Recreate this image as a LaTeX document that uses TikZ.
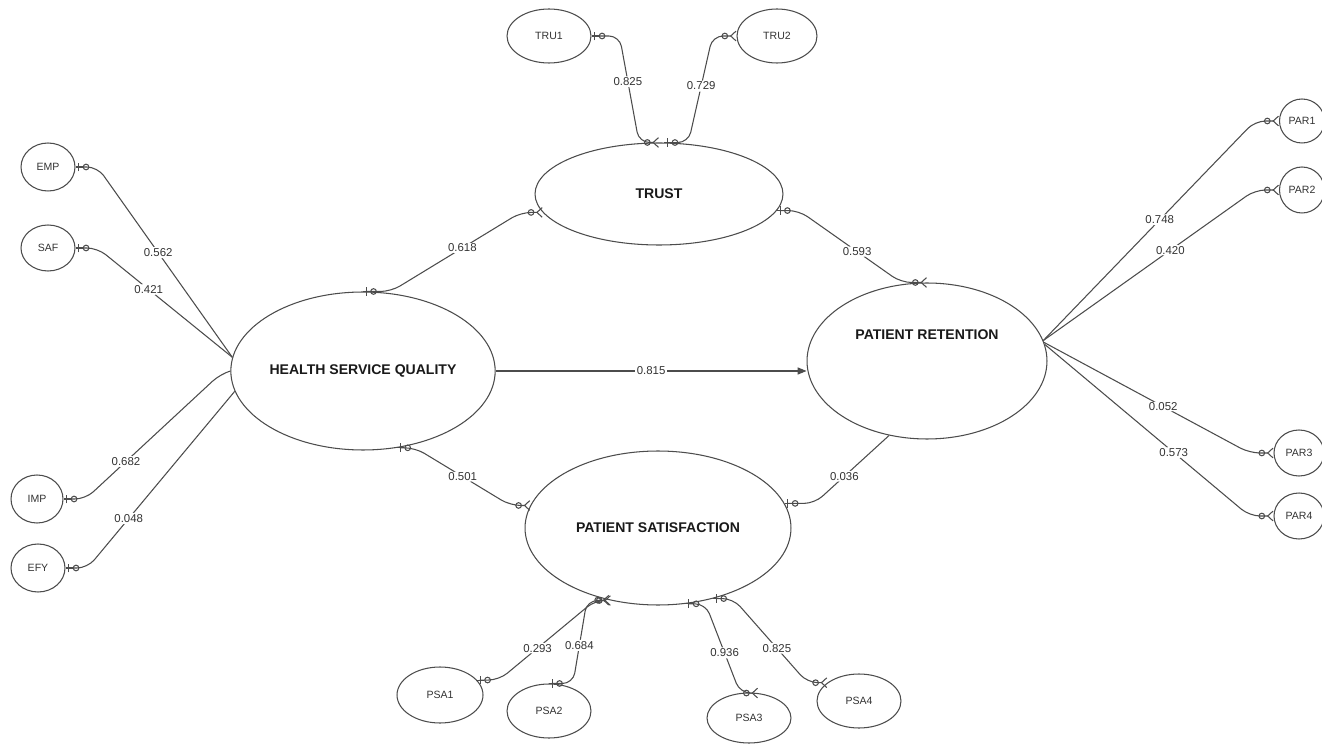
\documentclass[tikz,border=0pt]{standalone}
\usepackage{fontspec}
\setmainfont{Liberation Sans}
\usetikzlibrary{shapes.geometric,arrows.meta,calc}

\begin{document}
\begin{tikzpicture}[x=0.02cm,y=-0.02cm,
    line width=0.6pt,
    construct/.style={ellipse,draw=black!70,inner sep=0pt,text=black!90,
        font=\fontsize{8}{9}\selectfont\bfseries},
    indicator/.style={ellipse,draw=black!70,inner sep=0pt,text=black!80,
        font=\fontsize{6}{7}\selectfont},
    coef/.style={fill=white,inner sep=0.8pt,text=black!80,
        font=\fontsize{6.5}{7}\selectfont},
    link/.style={draw=black!70,rounded corners=6pt},
    onlyone/.style={link,arrows={{Rectangle[length=1.5pt,width=0.6pt,line width=0pt,sep=0pt]Bar[width=5pt,sep=0pt]Rectangle[length=2pt,width=0.6pt,line width=0pt,sep=0pt]Circle[open,length=3.8pt,width=3.8pt]}-}},
    onlymany/.style={link,arrows={-{Circle[open,length=3.8pt,width=3.8pt,sep=1pt]Straight Barb[reversed,length=3pt,width=5.5pt]}}},
    onemany/.style={link,arrows={{Rectangle[length=1.5pt,width=0.6pt,line width=0pt,sep=0pt]Bar[width=5pt,sep=0pt]Rectangle[length=2pt,width=0.6pt,line width=0pt,sep=0pt]Circle[open,length=3.8pt,width=3.8pt]}-{Circle[open,length=3.8pt,width=3.8pt,sep=1pt]Straight Barb[reversed,length=3pt,width=5.5pt]}}},
    endone/.style={link,arrows={-{Circle[open,length=3.8pt,width=3.8pt,sep=0pt]Rectangle[length=2pt,width=0.6pt,line width=0pt,sep=0pt]Bar[width=5pt,sep=0pt]Rectangle[length=1.5pt,width=0.6pt,line width=0pt]}}}]
    % page
    \fill[white] (0,0) rectangle (1322,746);
    \useasboundingbox (0,0) rectangle (1322,746);
    % draw the constructs
    \node[construct,minimum width=4.96cm,minimum height=3.16cm] (hsq) at (363,371) {HEALTH SERVICE QUALITY};
    \node[construct,minimum width=4.96cm,minimum height=2.04cm] (trust) at (659,194) {TRUST};
    \node[construct,minimum width=4.8cm,minimum height=3.12cm] (pr) at (927,361) {};
    \node[text=black!90,font=\fontsize{8}{9}\selectfont\bfseries] (prtext) at ($(pr.center)+(0,-26)$) {PATIENT RETENTION};
    \node[construct,minimum width=5.32cm,minimum height=3.08cm] (ps) at (658,528) {PATIENT SATISFACTION};
    % draw the indicators
    \node[indicator,minimum width=1.68cm,minimum height=1.08cm] (tru1) at (549,36) {TRU1};
    \node[indicator,minimum width=1.6cm,minimum height=1.08cm] (tru2) at (777,36) {TRU2};
    \node[indicator,minimum width=1.08cm,minimum height=0.96cm] (emp) at (48,167) {EMP};
    \node[indicator,minimum width=1.08cm,minimum height=0.92cm] (saf) at (48,248) {SAF};
    \node[indicator,minimum width=1.04cm,minimum height=0.96cm] (imp) at (37,499) {IMP};
    \node[indicator,minimum width=1.08cm,minimum height=0.96cm] (efy) at (38,568) {EFY};
    \node[indicator,minimum width=0.9cm,minimum height=0.88cm] (par1) at (1302,121) {PAR1};
    \node[indicator,minimum width=0.9cm,minimum height=0.92cm] (par2) at (1302,190) {PAR2};
    \node[indicator,minimum width=1.0cm,minimum height=0.92cm] (par3) at (1299,453) {PAR3};
    \node[indicator,minimum width=1.0cm,minimum height=0.92cm] (par4) at (1299,516) {PAR4};
    \node[indicator,minimum width=1.72cm,minimum height=1.12cm] (psa1) at (440,695) {PSA1};
    \node[indicator,minimum width=1.68cm,minimum height=1.08cm] (psa2) at (549,711) {PSA2};
    \node[indicator,minimum width=1.68cm,minimum height=1.0cm] (psa3) at (749,718) {PSA3};
    \node[indicator,minimum width=1.68cm,minimum height=1.08cm] (psa4) at (859,701) {PSA4};
    % draw the paths
    \draw[onemany] (hsq.north) -- ++(28,0) -- node[coef,pos=0.55]{0.618} ($(trust.189)+(-22,0)$) -- (trust.189);
    \draw[onemany] (trust.-8) -- ++(22,0) -- node[coef,pos=0.57]{0.593} ($(pr.north)+(-26,0)$) -- (pr.north);
    \draw[draw=black!70,-{Triangle[length=5pt,width=4pt]}] (hsq.east) -- node[coef]{0.815} (hsq.east -| pr.west);
    \draw[onemany] (hsq.294) -- ++(18,0) -- node[coef,pos=0.5]{0.501} ($(ps.170)+(-20,0)$) -- (ps.170);
    \draw[endone] (pr.243) -- node[coef,pos=0.6]{0.036} ($(ps.11)+(30,0)$) -- (ps.11);
    % draw the loadings
    \draw[onemany] (tru1.east) -- ++(28,0) -- node[coef,pos=0.43]{0.825} ($(trust.north)+(-20,0)$) -- (trust.north);
    \draw[onemany] (trust.84) -- ++(24,0) -- node[coef,pos=0.53]{0.729} ($(tru2.west)+(-24,0)$) -- (tru2.west);
    \draw[onlyone] (emp.east) -- ++(22,0) -- node[coef,pos=0.45]{0.562} (hsq.174);
    \draw[onlyone] (saf.east) -- ++(22,0) -- node[coef,pos=0.38]{0.421} (hsq.174);
    \draw[onlyone] (imp.east) -- ++(22,0) -- node[coef,pos=0.3]{0.682} ($(hsq.west)+(-10,3)$) -- (hsq.west);
    \draw[onlyone] (efy.east) -- ++(22,0) -- node[coef,pos=0.28]{0.048} (hsq.189);
    \draw[onlymany] (pr.10) -- node[coef,pos=0.55]{0.748} ($(par1.west)+(-24,0)$) -- (par1.west);
    \draw[onlymany] (pr.10) -- node[coef,pos=0.6]{0.420} ($(par2.west)+(-24,0)$) -- (par2.west);
    \draw[onlymany] (pr.9) -- node[coef,pos=0.58]{0.052} ($(par3.west)+(-24,0)$) -- (par3.west);
    \draw[onlymany] (pr.8) -- node[coef,pos=0.63]{0.573} ($(par4.west)+(-24,0)$) -- (par4.west);
    \draw[onemany] (psa1.22) -- ++(22,0) -- node[coef,pos=0.4]{0.293} ($(ps.236)+(-14,0)$) -- (ps.236);
    \draw[onemany] (psa2.north) -- ++(24,0) -- node[coef,pos=0.46]{0.684} ($(ps.237)+(-24,0)$) -- (ps.237);
    \draw[onemany] (ps.290) -- ++(20,0) -- node[coef,pos=0.55]{0.936} ($(psa3.70)+(-18,0)$) -- (psa3.70);
    \draw[onemany] (ps.308) -- ++(20,0) -- node[coef,pos=0.59]{0.825} ($(psa4.150)+(-20,0)$) -- (psa4.150);
\end{tikzpicture}
\end{document}
